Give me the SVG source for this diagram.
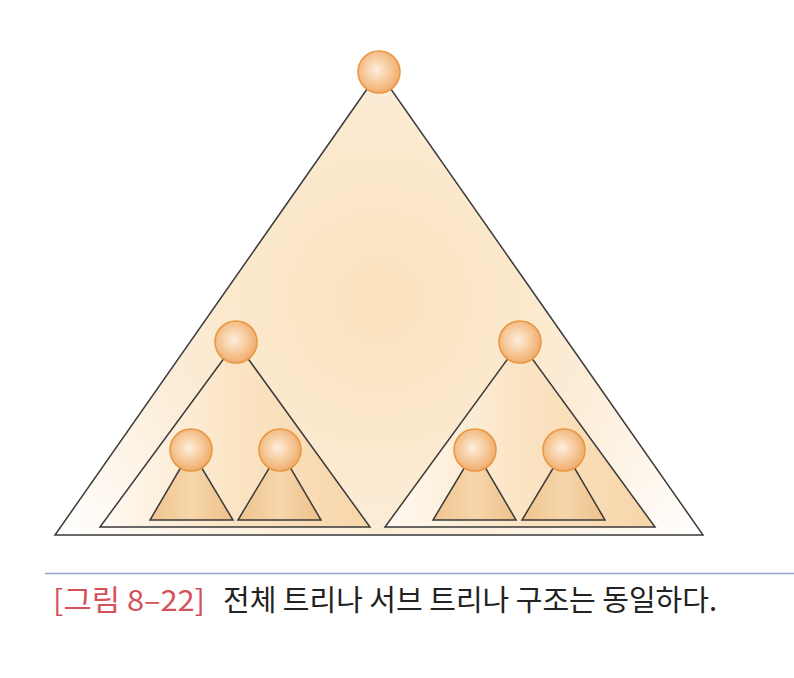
<svg xmlns="http://www.w3.org/2000/svg" width="794" height="678" viewBox="0 0 794 678">
<defs>
<radialGradient id="gBig" cx="380" cy="300" r="400" gradientUnits="userSpaceOnUse">
<stop offset="0" stop-color="#fbe2bd"/>
<stop offset="0.55" stop-color="#fcecd6"/>
<stop offset="1" stop-color="#ffffff"/>
</radialGradient>
<linearGradient id="gSub" x1="0" y1="0" x2="1" y2="0">
<stop offset="0" stop-color="#fffaf3"/>
<stop offset="0.5" stop-color="#fbe4c4"/>
<stop offset="1" stop-color="#f7d5a8"/>
</linearGradient>
<linearGradient id="gSmall" x1="0" y1="0" x2="1" y2="0">
<stop offset="0" stop-color="#efc48e"/>
<stop offset="0.5" stop-color="#f6d6ab"/>
<stop offset="1" stop-color="#eec08a"/>
</linearGradient>
<radialGradient id="gNode" cx="0.45" cy="0.45" r="0.6">
<stop offset="0" stop-color="#fdeede"/>
<stop offset="0.55" stop-color="#f6c898"/>
<stop offset="1" stop-color="#eea766"/>
</radialGradient>
</defs>
<style>
.tri{stroke:#3a3a3a;stroke-width:1.5;stroke-linejoin:miter}
.node{fill:url(#gNode);stroke:#e8963f;stroke-width:1.5}
.cap{font-family:"Noto Sans CJK KR","Noto Sans",sans-serif;font-size:29px}
</style>
<rect width="794" height="678" fill="#ffffff"/>
<g id="connectors">
<polygon class="tri" points="379,72 55,535 703,535" fill="url(#gBig)"/>
<polygon class="tri" points="236,342 100,527 370,527" fill="url(#gSub)"/>
<polygon class="tri" points="520,342 385,527 655,527" fill="url(#gSub)"/>
<polygon class="tri" points="191,450 150,520 233,520" fill="url(#gSmall)"/>
<polygon class="tri" points="280,450 238,520 321,520" fill="url(#gSmall)"/>
<polygon class="tri" points="475,450 433,520 516,520" fill="url(#gSmall)"/>
<polygon class="tri" points="564,450 522,520 605,520" fill="url(#gSmall)"/>
</g>
<g id="root"><circle class="node" cx="379" cy="72" r="21"/></g>
<g id="left"><circle class="node" cx="236" cy="342" r="21"/></g>
<g id="right"><circle class="node" cx="520" cy="342" r="21"/></g>
<g id="left-left"><circle class="node" cx="191" cy="450" r="21"/></g>
<g id="left-right"><circle class="node" cx="280" cy="450" r="21"/></g>
<g id="right-left"><circle class="node" cx="475" cy="450" r="21"/></g>
<g id="right-right"><circle class="node" cx="564" cy="450" r="21"/></g>
<g id="caption">
<line x1="45" y1="573.5" x2="794" y2="573.5" stroke="#8ea4cc" stroke-width="1.5"/>
<text class="cap" x="53" y="611" fill="#d6505a" textLength="152" lengthAdjust="spacingAndGlyphs">[그림 8–22]</text>
<text class="cap" x="223" y="611" fill="#222222" textLength="494" lengthAdjust="spacingAndGlyphs">전체 트리나 서브 트리나 구조는 동일하다.</text>
</g>
</svg>
